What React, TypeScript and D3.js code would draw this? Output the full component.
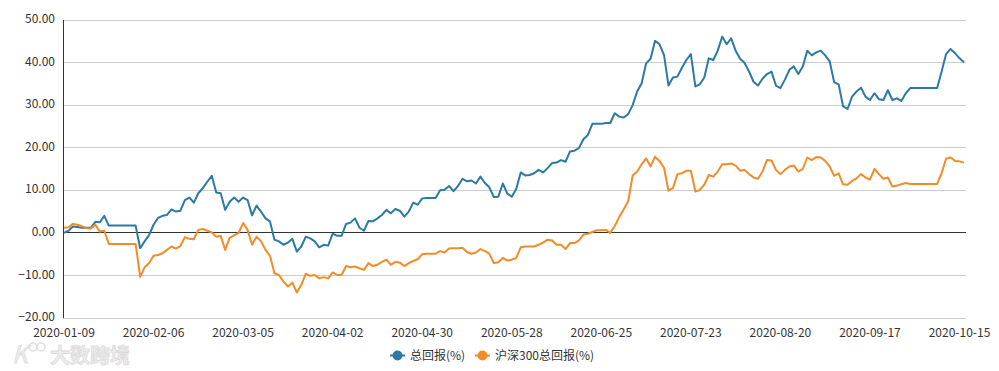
import React from "react";
import * as d3 from "d3";

const totalReturn: number[] = [
  0.0, 0.5, 1.5, 1.4, 1.2, 1.2, 1.2, 2.6, 2.5, 4.0,
  1.7, 1.7, 1.7, 1.7, 1.7, 1.7, 1.7, -3.6, -2.0, -0.5,
  1.9, 3.5, 4.0, 4.2, 5.5, 5.0, 5.2, 7.7, 8.3, 7.1,
  9.3, 10.5, 12.0, 13.4, 9.5, 9.3, 5.4, 7.3, 8.3, 7.3,
  8.3, 7.7, 4.1, 6.4, 5.0, 3.4, 2.7, -1.6, -2.0, -2.8,
  -2.3, -1.4, -4.4, -3.2, -0.9, -1.3, -2.0, -3.4, -2.8, -3.0,
  -0.2, -0.7, -0.7, 2.1, 2.4, 3.4, 1.2, 0.5, 2.8, 2.7,
  3.4, 4.2, 5.4, 4.6, 5.6, 5.2, 3.8, 5.0, 7.1, 6.6,
  8.1, 8.2, 8.2, 8.2, 10.0, 10.1, 11.0, 9.8, 11.0, 12.7,
  12.1, 12.3, 11.6, 13.2, 11.7, 10.7, 8.4, 8.5, 11.6, 9.2,
  8.5, 10.3, 14.2, 13.5, 13.6, 14.0, 14.8, 14.2, 15.2, 16.4,
  16.5, 17.1, 16.7, 19.1, 19.3, 19.9, 22.0, 23.0, 25.6, 25.6,
  25.6, 25.8, 25.8, 28.1, 27.3, 27.1, 27.9, 30.0, 33.2, 35.1,
  39.8, 40.9, 45.1, 44.3, 41.8, 34.6, 36.5, 36.7, 38.8, 40.6,
  42.0, 34.4, 34.9, 36.5, 41.0, 40.6, 42.8, 46.1, 44.3, 45.7,
  42.8, 40.9, 39.9, 37.9, 35.5, 34.6, 36.2, 37.3, 37.9, 34.6,
  34.0, 36.0, 38.3, 39.1, 37.3, 39.1, 42.8, 41.7, 42.4, 42.8,
  41.7, 40.3, 35.4, 34.9, 29.7, 29.1, 32.0, 33.2, 34.1, 32.0,
  31.2, 32.8, 31.4, 31.2, 33.5, 31.2, 31.6, 31.0, 32.8, 34.0,
  34.0, 34.0, 34.0, 34.0, 34.0, 34.0, 37.9, 42.0, 43.2, 42.2,
  41.0, 40.1,
];

const hs300Return: number[] = [
  1.2, 1.3, 2.1, 1.9, 1.6, 1.1, 1.0, 1.9, 0.3, 0.5,
  -2.6, -2.6, -2.6, -2.6, -2.6, -2.6, -2.6, -10.3, -8.1, -7.1,
  -5.4, -5.2, -4.8, -4.0, -3.2, -3.7, -3.1, -1.0, -1.4, -1.5,
  0.7, 0.9, 0.5, 0.1, -0.9, -0.7, -4.0, -1.2, -0.6, 0.0,
  2.3, 0.7, -2.8, -0.9, -2.0, -4.0, -5.4, -9.5, -9.9, -11.4,
  -12.6, -11.7, -14.0, -12.2, -9.6, -10.1, -9.9, -10.7, -10.4, -10.7,
  -9.3, -9.9, -9.9, -7.8, -8.1, -7.9, -8.3, -8.7, -7.1, -7.8,
  -7.5, -6.8, -6.3, -7.5, -6.8, -7.0, -7.8, -7.1, -6.6, -6.2,
  -5.0, -4.9, -4.9, -4.9, -4.3, -4.6, -3.7, -3.6, -3.6, -3.5,
  -4.5, -4.9, -4.6, -3.8, -4.3, -4.9, -7.1, -6.9, -5.9, -6.5,
  -6.3, -5.9, -3.4, -3.2, -3.2, -3.2, -2.8, -2.3, -1.6, -1.8,
  -2.8, -2.8, -3.8, -2.4, -2.4, -1.8, -0.4, -0.2, 0.2, 0.6,
  0.6, 0.7, 0.0, 1.6, 3.7, 5.5, 7.4, 13.5, 14.4, 16.1,
  17.5, 15.6, 17.9, 16.9, 15.3, 9.9, 10.5, 13.8, 14.0, 14.6,
  14.6, 9.7, 10.1, 11.3, 13.6, 13.2, 14.4, 16.1, 16.1, 16.3,
  15.8, 14.6, 14.8, 13.8, 13.0, 12.7, 14.4, 17.1, 17.0, 14.8,
  13.8, 14.8, 15.6, 15.8, 14.4, 15.0, 17.7, 17.1, 17.8, 17.7,
  16.9, 15.6, 13.4, 14.0, 11.4, 11.3, 12.2, 12.8, 13.8, 13.0,
  12.5, 15.0, 13.8, 12.7, 13.0, 10.9, 11.1, 11.4, 11.7, 11.5,
  11.5, 11.5, 11.5, 11.5, 11.5, 11.5, 14.0, 17.4, 17.7, 16.9,
  16.8, 16.5,
];

// trading-day categories: weekdays from 2020-01-09 to 2020-10-16
const startDate = "2020-01-09";
const endDate = "2020-10-16";
const fmt = d3.utcFormat("%Y-%m-%d");
const dates: string[] = d3
  .utcDay.range(new Date(startDate + "T00:00:00Z"), d3.utcDay.offset(new Date(endDate + "T00:00:00Z"), 1))
  .filter((d) => d.getUTCDay() !== 0 && d.getUTCDay() !== 6)
  .map(fmt);

const xTickLabels: string[] = [
  "2020-01-09", "2020-02-06", "2020-03-05", "2020-04-02", "2020-04-30",
  "2020-05-28", "2020-06-25", "2020-07-23", "2020-08-20", "2020-09-17", "2020-10-15",
];
const yTicks: number[] = [-20, -10, 0, 10, 20, 30, 40, 50];
const seriesNames: string[] = ["总回报(%)", "沪深300总回报(%)"];
const seriesColors: string[] = ["#2b7aa6", "#f28c28"];

const W = 999;
const H = 371;
const left = 63;
const right = 966;
const top = 20;
const bottom = 318;
const font = "'Microsoft YaHei', 'Noto Sans CJK SC', 'Open Sans', sans-serif";

export default function App() {
  const x = d3.scalePoint<string>().domain(dates).range([64, 964]);
  const y = d3.scaleLinear().domain([-20, 50]).range([bottom, top]);
  const line = d3
    .line<number>()
    .x((_, i) => x(dates[i]) as number)
    .y((v) => y(v));
  const series = [totalReturn, hs300Return];

  return (
    <div style={{ position: "fixed", left: 0, top: 0, width: W, height: H, background: "#fff" }}>
      <svg width={W} height={H} style={{ display: "block" }}>
        {/* watermark */}
        <g opacity={0.9}>
          <text x={12} y={363} fontSize={24} fontFamily={font} fill="#ececec" stroke="#dadada" strokeWidth={0.8} fontStyle="italic">
            K
          </text>
          <circle cx={33} cy={347} r={4} fill="none" stroke="#dadada" strokeWidth={1.5} />
          <circle cx={41} cy={347} r={4} fill="none" stroke="#dadada" strokeWidth={1.5} />
          <text x={50} y={363} fontSize={20} fontFamily={font} fill="#ececec" stroke="#d8d8d8" strokeWidth={0.8} fontWeight="bold">
            大数跨境
          </text>
        </g>
        {/* grid */}
        {yTicks.map((t) => (
          <line key={t} x1={left} x2={right} y1={y(t)} y2={y(t)} stroke={t === 0 ? "#333" : "#ccc"} strokeWidth={1} shapeRendering="crispEdges" />
        ))}
        {/* y axis line */}
        <line x1={left} x2={left} y1={top} y2={bottom} stroke="#333" strokeWidth={1} shapeRendering="crispEdges" />
        {/* y labels */}
        {yTicks.map((t) => (
          <text key={t} x={55} y={y(t) - 1} dy="0.35em" textAnchor="end" fontSize={12} fontFamily={font} fill="#333">
            {d3.format(".2f")(t)}
          </text>
        ))}
        {/* x labels */}
        {xTickLabels.map((d) => (
          <text key={d} x={x(d) as number} y={337} textAnchor="middle" fontSize={12} fontFamily={font} fill="#333">
            {d}
          </text>
        ))}
        {/* lines */}
        {series.map((s, k) => (
          <path key={k} d={line(s) || ""} fill="none" stroke={seriesColors[k]} strokeWidth={2} strokeLinejoin="round" />
        ))}
        {/* legend */}
        <g fontFamily={font} fontSize={12} fill="#333">
          <line x1={390} x2={405} y1={355.5} y2={355.5} stroke={seriesColors[0]} strokeWidth={2} />
          <circle cx={397.5} cy={355.5} r={5} fill={seriesColors[0]} />
          <text x={410} y={355.5} dy="0.35em">{seriesNames[0]}</text>
          <line x1={475} x2={490} y1={355.5} y2={355.5} stroke={seriesColors[1]} strokeWidth={2} />
          <circle cx={482.5} cy={355.5} r={5} fill={seriesColors[1]} />
          <text x={495} y={355.5} dy="0.35em">{seriesNames[1]}</text>
        </g>
      </svg>
    </div>
  );
}
